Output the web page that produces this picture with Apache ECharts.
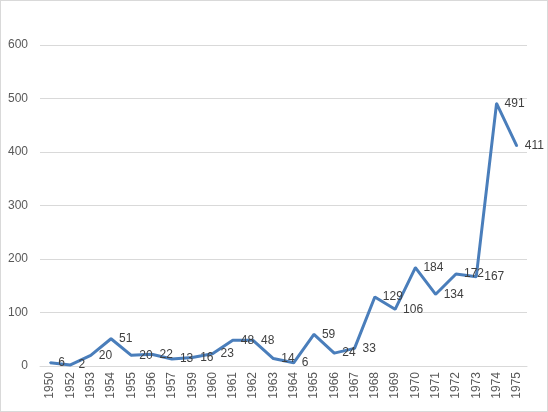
<!DOCTYPE html>
<html>
<head>
<meta charset="utf-8">
<script src="https://cdn.jsdelivr.net/npm/echarts@6/dist/echarts.min.js"></script>
<style>
  html, body { margin: 0; padding: 0; background: #fff; }
  #chart { width: 546px; height: 410px; border: 1px solid #d9d9d9; }
</style>
</head>
<body>
<div id="chart"></div>
<script>
const years = ['1950', '1952', '1953', '1954', '1955', '1956', '1957', '1959', '1960', '1961', '1962', '1963',
  '1964', '1965', '1966', '1967', '1968', '1969', '1970', '1971', '1972', '1973', '1974', '1975']
const counts = [6, 2, 20, 51, 20, 22, 13, 16, 23, 48, 48, 14, 6, 59, 24, 33, 129, 106, 184, 134, 172, 167, 491, 411]
const yTicks = [0, 100, 200, 300, 400, 500, 600]

const myChart = echarts.init(document.getElementById('chart'))
myChart.setOption({
  animation: false,
  textStyle: { fontFamily: 'Liberation Sans' },
  grid: { left: 39, right: 20, top: 44, bottom: 45 },
  xAxis: {
    type: 'category',
    data: years,
    boundaryGap: true,
    axisLine: { lineStyle: { color: '#d9d9d9' } },
    axisTick: { show: false },
    axisLabel: { rotate: 90, color: '#595959', fontSize: 12, margin: 6, interval: 0 }
  },
  yAxis: {
    type: 'value',
    min: yTicks[0],
    max: yTicks[yTicks.length - 1],
    interval: 100,
    axisLine: { show: false },
    axisTick: { show: false },
    axisLabel: { color: '#595959', fontSize: 12, margin: 12 },
    splitLine: { lineStyle: { color: '#d9d9d9' } }
  },
  series: [
    {
      type: 'line',
      data: counts,
      symbol: 'circle',
      symbolSize: 2,
      showSymbol: true,
      showAllSymbol: true,
      itemStyle: { color: '#4a7ebb', borderWidth: 0 },
      lineStyle: { width: 3, color: '#4a7ebb' },
      label: {
        show: true,
        position: 'right',
        distance: 7,
        color: '#404040',
        fontSize: 12
      }
    }
  ]
})
</script>
</body>
</html>
